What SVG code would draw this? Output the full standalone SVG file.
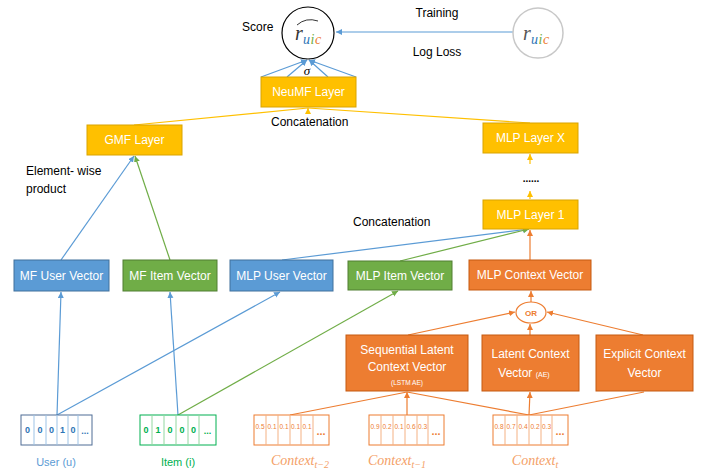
<svg xmlns="http://www.w3.org/2000/svg" width="711" height="472" viewBox="0 0 711 472">
<defs>
<marker id="ab" markerWidth="8" markerHeight="8" refX="6" refY="3" orient="auto" markerUnits="userSpaceOnUse"><path d="M0,0 L6,3 L0,6 z" fill="#5B9BD5"/></marker>
<marker id="ag" markerWidth="8" markerHeight="8" refX="6" refY="3" orient="auto" markerUnits="userSpaceOnUse"><path d="M0,0 L6,3 L0,6 z" fill="#70AD47"/></marker>
<marker id="ao" markerWidth="8" markerHeight="8" refX="6" refY="3" orient="auto" markerUnits="userSpaceOnUse"><path d="M0,0 L6,3 L0,6 z" fill="#ED7D31"/></marker>
<marker id="ay" markerWidth="8" markerHeight="8" refX="6" refY="3" orient="auto" markerUnits="userSpaceOnUse"><path d="M0,0 L6,3 L0,6 z" fill="#FFC000"/></marker>
</defs>
<style>
text{font-family:"Liberation Sans",Arial,sans-serif}
.lbl{font-size:12px;fill:#000}
.bt{font-size:12px;fill:#fff;text-anchor:middle}
.yel{fill:#FFC000;stroke:#D9A400;stroke-width:1}
.blu{fill:#5B9BD5;stroke:#41719C;stroke-width:1}
.grn{fill:#70AD47;stroke:#507E32;stroke-width:1}
.org{fill:#ED7D31;stroke:#C55A11;stroke-width:1}
.lb{stroke:#5B9BD5;stroke-width:1.2;fill:none}
.lg{stroke:#70AD47;stroke-width:1.2;fill:none}
.lo{stroke:#ED7D31;stroke-width:1.2;fill:none}
.ly{stroke:#FFC000;stroke-width:1.2;fill:none}
.math{font-family:"Liberation Serif","DejaVu Serif",serif;font-style:italic}
.ctx{font-family:"Liberation Serif","DejaVu Serif",serif;font-style:italic;fill:#F4A066;font-size:14px;text-anchor:middle}
.cu{fill:#fff;stroke:#4F6D95;stroke-width:1}
.ci{fill:#fff;stroke:#00B050;stroke-width:1}
.cc{fill:#fff;stroke:#ED7D31;stroke-width:1}
.du{font-size:9px;font-weight:bold;fill:#2E75B6;text-anchor:middle}
.di{font-size:9px;font-weight:bold;fill:#00B050;text-anchor:middle}
.dc{font-size:6.5px;fill:#ED7D31;text-anchor:middle}
.dcb{font-size:11px;font-weight:bold;fill:#ED7D31;text-anchor:middle}
</style>

<g id="connectors">
<line class="lb" x1="513" y1="32" x2="336" y2="32" marker-end="url(#ab)"/>
<line class="lb" x1="261" y1="77" x2="307" y2="60" marker-end="url(#ab)"/>
<line class="lb" x1="287" y1="77" x2="307" y2="60" marker-end="url(#ab)"/>
<line class="lb" x1="328" y1="77" x2="309" y2="60" marker-end="url(#ab)"/>
<line class="lb" x1="356" y1="77" x2="309" y2="60" marker-end="url(#ab)"/>
<line class="ly" x1="134" y1="125" x2="308" y2="108"/>
<line class="ly" x1="530" y1="123" x2="308" y2="108"/>
<line class="ly" x1="308" y1="112" x2="308" y2="108" marker-end="url(#ay)"/>
<line class="ly" x1="530" y1="164" x2="530" y2="154" marker-end="url(#ay)"/>
<line class="ly" x1="530" y1="199" x2="530" y2="191" marker-end="url(#ay)"/>
<line class="lo" x1="530" y1="260" x2="530" y2="230" marker-end="url(#ao)"/>
<line class="lb" x1="282" y1="260" x2="529" y2="229" marker-end="url(#ab)"/>
<line class="lg" x1="400" y1="261" x2="529" y2="229" marker-end="url(#ag)"/>
<line class="lb" x1="61" y1="260" x2="134" y2="156" marker-end="url(#ab)"/>
<line class="lg" x1="170" y1="260" x2="135" y2="156" marker-end="url(#ag)"/>
<line class="lb" x1="57" y1="415" x2="61" y2="292" marker-end="url(#ab)"/>
<line class="lb" x1="57" y1="415" x2="280" y2="292" marker-end="url(#ab)"/>
<line class="lb" x1="178" y1="415" x2="170" y2="292" marker-end="url(#ab)"/>
<line class="lg" x1="178" y1="415" x2="398" y2="291" marker-end="url(#ag)"/>
<line class="lo" x1="290" y1="415" x2="407" y2="392"/>
<line class="lo" x1="407" y1="415" x2="407" y2="392" marker-end="url(#ao)"/>
<line class="lo" x1="529" y1="415" x2="407" y2="392"/>
<line class="lo" x1="529" y1="415" x2="530" y2="392" marker-end="url(#ao)"/>
<line class="lo" x1="529" y1="415" x2="644" y2="392"/>
<line class="lo" x1="408" y1="335" x2="515" y2="312" marker-end="url(#ao)"/>
<line class="lo" x1="530" y1="335" x2="530" y2="324" marker-end="url(#ao)"/>
<line class="lo" x1="643" y1="335" x2="547" y2="312" marker-end="url(#ao)"/>
<line class="lo" x1="531" y1="302" x2="531" y2="291" marker-end="url(#ao)"/>
</g>

<g id="labels">
<text class="lbl" x="242" y="31">Score</text>
<text class="lbl" x="437" y="17" text-anchor="middle">Training</text>
<text class="lbl" x="437" y="56" text-anchor="middle">Log Loss</text>
<text x="307" y="75" font-size="13" class="math" text-anchor="middle" fill="#000">σ</text>
<text class="lbl" x="271" y="126">Concatenation</text>
<text class="lbl" x="353" y="226">Concatenation</text>
<text class="lbl" x="26" y="175">Element- wise</text>
<text class="lbl" x="26" y="193">product</text>
<text x="531" y="182" font-size="10" font-weight="bold" text-anchor="middle" fill="#000">......</text>
</g>

<g id="score">
<circle cx="308" cy="33" r="26" fill="#fff" stroke="#000" stroke-width="1.2"/>
<path d="M297,25 Q306,17 318,21" fill="none" stroke="#000" stroke-width="0.8"/>
<text x="295" y="40" class="math" font-size="20" fill="#333">r</text>
<text x="303" y="44" class="math" font-size="14" fill="#2E75B6">u</text>
<text x="310.5" y="44" class="math" font-size="14" fill="#70AD47">i</text>
<text x="315" y="44" class="math" font-size="14" fill="#ED7D31">c</text>
</g>

<g id="truth">
<circle cx="538" cy="33" r="25" fill="#fff" stroke="#C8C8C8" stroke-width="1.5"/>
<text x="523" y="40" class="math" font-size="20" fill="#555">r</text>
<text x="531" y="44" class="math" font-size="14" fill="#2E75B6">u</text>
<text x="538.5" y="44" class="math" font-size="14" fill="#70AD47">i</text>
<text x="543" y="44" class="math" font-size="14" fill="#ED7D31">c</text>
</g>

<g id="neumf"><rect class="yel" x="261" y="77" width="95" height="30"/><text class="bt" x="308.5" y="96">NeuMF Layer</text></g>
<g id="gmf"><rect class="yel" x="87" y="125" width="95" height="30"/><text class="bt" x="134.5" y="144">GMF Layer</text></g>
<g id="mlpx"><rect class="yel" x="483" y="123" width="95" height="30"/><text class="bt" x="530.5" y="142">MLP Layer X</text></g>
<g id="mlp1"><rect class="yel" x="483" y="200" width="95" height="29"/><text class="bt" x="530.5" y="219">MLP Layer 1</text></g>

<g id="mfuser"><rect class="blu" x="14" y="260" width="95" height="31"/><text class="bt" x="61.5" y="280">MF User Vector</text></g>
<g id="mfitem"><rect class="grn" x="123" y="260" width="94" height="31"/><text class="bt" x="170" y="280">MF Item Vector</text></g>
<g id="mlpuser"><rect class="blu" x="230" y="260" width="103" height="31"/><text class="bt" x="281.5" y="280">MLP User Vector</text></g>
<g id="mlpitem"><rect class="grn" x="348" y="261" width="104" height="29"/><text class="bt" x="400" y="280">MLP Item Vector</text></g>
<g id="mlpctx"><rect class="org" x="469" y="260" width="122" height="30"/><text class="bt" x="530" y="279">MLP Context Vector</text></g>

<g id="or"><ellipse cx="531" cy="312.5" rx="15" ry="10.5" fill="#fff" stroke="#ED7D31" stroke-width="1.2"/><text x="531" y="316" font-size="8" font-weight="bold" fill="#ED7D31" text-anchor="middle">OR</text></g>

<g id="seqctx"><rect class="org" x="346" y="335" width="122" height="56"/>
<text class="bt" x="407" y="354">Sequential Latent</text>
<text class="bt" x="407" y="371">Context Vector</text>
<text x="407" y="385" font-size="6.5" fill="#fff" text-anchor="middle">(LSTM AE)</text></g>
<g id="latctx"><rect class="org" x="482" y="335" width="97" height="56"/>
<text class="bt" x="530.5" y="358">Latent Context</text>
<text class="bt" x="524" y="377">Vector <tspan font-size="7">(AE)</tspan></text></g>
<g id="expctx"><rect class="org" x="596" y="335" width="97" height="56"/>
<text class="bt" x="644.5" y="358">Explicit Context</text>
<text class="bt" x="644.5" y="377">Vector</text></g>

<g id="user">
<rect class="cu" x="21" y="415" width="71" height="30"/>
<path d="M34,415V445M46,415V445M57,415V445M68,415V445M78,415V445" stroke="#9DC3E6" stroke-width="1"/>
<text class="du" x="27.5" y="433">0</text><text class="du" x="40" y="433">0</text><text class="du" x="51.5" y="433">0</text><text class="du" x="62.5" y="433">1</text><text class="du" x="73" y="433">0</text><text class="du" x="85" y="434" font-size="11">...</text>
<text x="56" y="466" font-size="11" fill="#5B9BD5" text-anchor="middle">User (u)</text>
</g>
<g id="item">
<rect class="ci" x="140" y="415" width="76" height="30"/>
<path d="M152,415V445M164,415V445M176,415V445M188,415V445M199,415V445" stroke="#92D7A0" stroke-width="1"/>
<text class="di" x="146" y="433">0</text><text class="di" x="158" y="433">1</text><text class="di" x="170" y="433">0</text><text class="di" x="182" y="433">0</text><text class="di" x="193.5" y="433">0</text><text class="di" x="207.5" y="434" font-size="11">...</text>
<text x="178" y="466" font-size="11" fill="#00B050" text-anchor="middle">Item (i)</text>
</g>
<g id="ctx2">
<rect class="cc" x="254" y="415" width="75" height="30"/>
<path d="M266,415V445M278,415V445M290,415V445M301,415V445M313,415V445" stroke="#F4B183" stroke-width="1"/>
<text class="dc" x="260" y="429">0.5</text><text class="dc" x="272" y="429">0.1</text><text class="dc" x="284" y="429">0.1</text><text class="dc" x="295.5" y="429">0.1</text><text class="dc" x="307" y="429">0.1</text><text class="dcb" x="321" y="435">...</text>
<text class="ctx" x="300" y="465">Context<tspan font-size="10" dy="3">t−2</tspan></text>
</g>
<g id="ctx1">
<rect class="cc" x="369" y="415" width="75" height="30"/>
<path d="M381,415V445M393,415V445M405,415V445M417,415V445M428,415V445" stroke="#F4B183" stroke-width="1"/>
<text class="dc" x="375" y="429">0.9</text><text class="dc" x="387" y="429">0.2</text><text class="dc" x="399" y="429">0.1</text><text class="dc" x="411" y="429">0.6</text><text class="dc" x="422.5" y="429">0.3</text><text class="dcb" x="436" y="435">...</text>
<text class="ctx" x="397" y="465">Context<tspan font-size="10" dy="3">t−1</tspan></text>
</g>
<g id="ctx0">
<rect class="cc" x="493" y="415" width="75" height="30"/>
<path d="M505,415V445M517,415V445M529,415V445M541,415V445M552,415V445" stroke="#F4B183" stroke-width="1"/>
<text class="dc" x="499" y="429">0.8</text><text class="dc" x="511" y="429">0.7</text><text class="dc" x="523" y="429">0.4</text><text class="dc" x="535" y="429">0.2</text><text class="dc" x="546.5" y="429">0.3</text><text class="dcb" x="560" y="435">...</text>
<text class="ctx" x="535" y="465">Context<tspan font-size="10" dy="3">t</tspan></text>
</g>
</svg>
